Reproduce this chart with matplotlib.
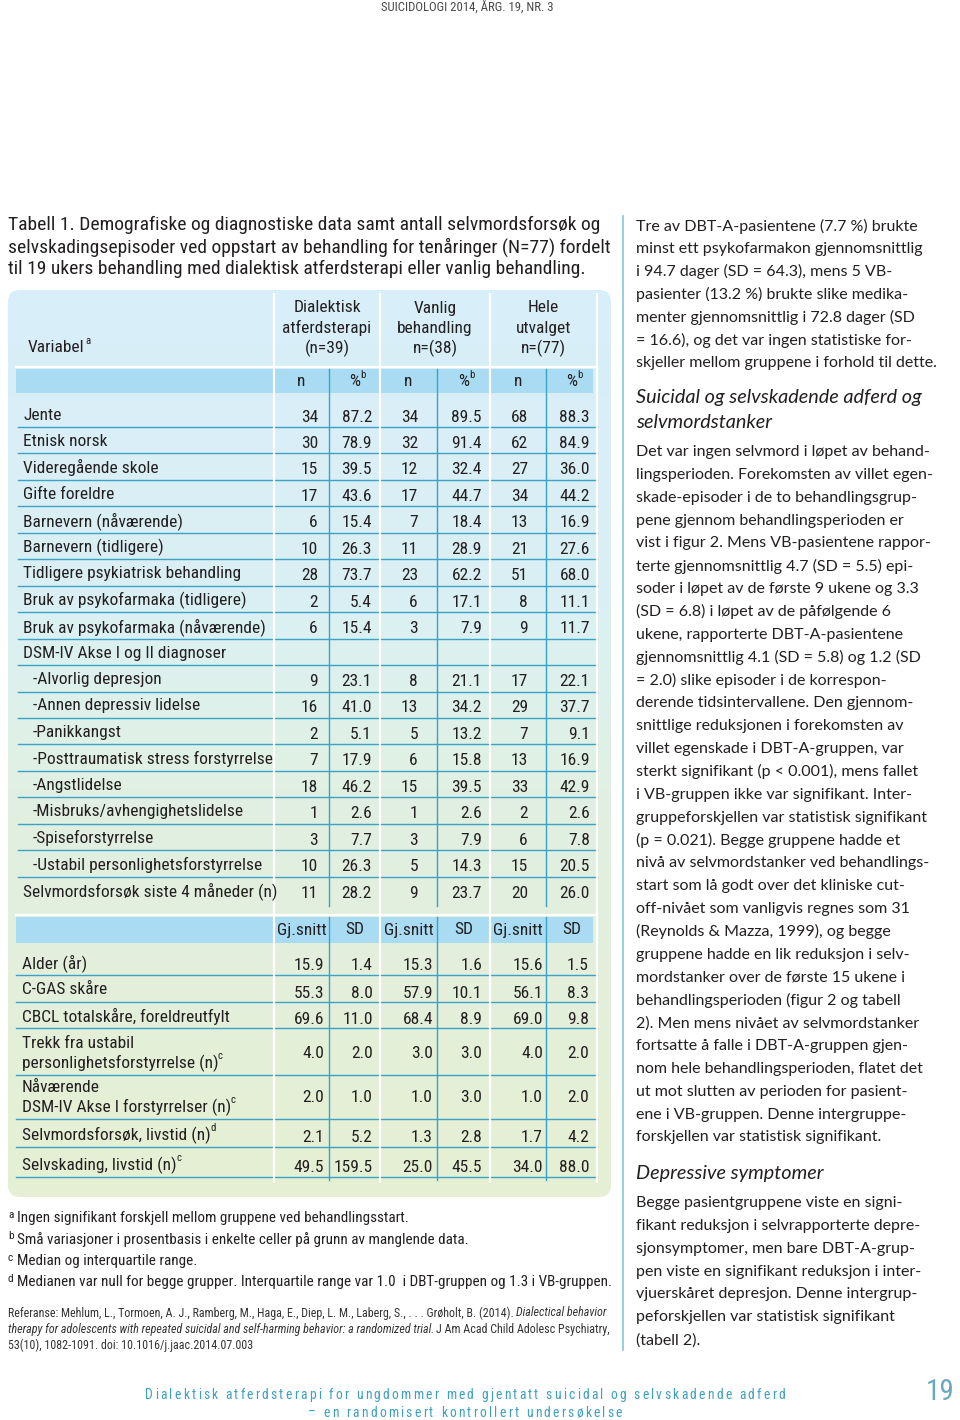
import numpy as np
import matplotlib
matplotlib.use("Agg")
import matplotlib.pyplot as plt
from matplotlib.patches import FancyBboxPatch, Rectangle
from matplotlib.colors import LinearSegmentedColormap
from matplotlib.font_manager import FontProperties, fontManager

# ---------------- data ----------------
title_lines = [
    "Tabell 1. Demografiske og diagnostiske data samt antall selvmordsforsøk og",
    "selvskadingsepisoder ved oppstart av behandling for tenåringer (N=77) fordelt",
    "til 19 ukers behandling med dialektisk atferdsterapi eller vanlig behandling.",
]
group_heads = [["Dialektisk", "atferdsterapi", "(n=39)"],
               ["Vanlig", "behandling", "n=(38)"],
               ["Hele", "utvalget", "n=(77)"]]

cat_labels = ["Jente", "Etnisk norsk", "Videregående skole", "Gifte foreldre",
              "Barnevern (nåværende)", "Barnevern (tidligere)",
              "Tidligere psykiatrisk behandling", "Bruk av psykofarmaka (tidligere)",
              "Bruk av psykofarmaka (nåværende)", "DSM-IV Akse I og II diagnoser",
              "-Alvorlig depresjon", "-Annen depressiv lidelse", "-Panikkangst",
              "-Posttraumatisk stress forstyrrelse", "-Angstlidelse",
              "-Misbruks/avhengighetslidelse", "-Spiseforstyrrelse",
              "-Ustabil personlighetsforstyrrelse", "Selvmordsforsøk siste 4 måneder (n)"]
n_dbt = [34, 30, 15, 17, 6, 10, 28, 2, 6, None, 9, 16, 2, 7, 18, 1, 3, 10, 11]
pct_dbt = [87.2, 78.9, 39.5, 43.6, 15.4, 26.3, 73.7, 5.4, 15.4, None, 23.1, 41.0, 5.1, 17.9, 46.2, 2.6, 7.7, 26.3, 28.2]
n_vb = [34, 32, 12, 17, 7, 11, 23, 6, 3, None, 8, 13, 5, 6, 15, 1, 3, 5, 9]
pct_vb = [89.5, 91.4, 32.4, 44.7, 18.4, 28.9, 62.2, 17.1, 7.9, None, 21.1, 34.2, 13.2, 15.8, 39.5, 2.6, 7.9, 14.3, 23.7]
n_all = [68, 62, 27, 34, 13, 21, 51, 8, 9, None, 17, 29, 7, 13, 33, 2, 6, 15, 20]
pct_all = [88.3, 84.9, 36.0, 44.2, 16.9, 27.6, 68.0, 11.1, 11.7, None, 22.1, 37.7, 9.1, 16.9, 42.9, 2.6, 7.8, 20.5, 26.0]

cont_labels = [["Alder (år)"], ["C-GAS skåre"], ["CBCL totalskåre, foreldreutfylt"],
               ["Trekk fra ustabil", "personlighetsforstyrrelse (n)"],
               ["Nåværende", "DSM-IV Akse I forstyrrelser (n)"],
               ["Selvmordsforsøk, livstid (n)"], ["Selvskading, livstid (n)"]]
cont_sup = ["", "", "", "c", "c", "d", "c"]
mean_dbt = [15.9, 55.3, 69.6, 4.0, 2.0, 2.1, 49.5]
sd_dbt = [1.4, 8.0, 11.0, 2.0, 1.0, 5.2, 159.5]
mean_vb = [15.3, 57.9, 68.4, 3.0, 1.0, 1.3, 25.0]
sd_vb = [1.6, 10.1, 8.9, 3.0, 3.0, 2.8, 45.5]
mean_all = [15.6, 56.1, 69.0, 4.0, 1.0, 1.7, 34.0]
sd_all = [1.5, 8.3, 9.8, 2.0, 2.0, 4.2, 88.0]

notes = [("a", "Ingen signifikant forskjell mellom gruppene ved behandlingsstart."),
         ("b", "Små variasjoner i prosentbasis i enkelte celler på grunn av manglende data."),
         ("c", "Median og interquartile range."),
         ("d", "Medianen var null for begge grupper. Interquartile range var 1.0  i DBT-gruppen og 1.3 i VB-gruppen.")]
ref_lines = [
    [("Referanse: Mehlum, L., Tormoen, A. J., Ramberg, M., Haga, E., Diep, L. M., Laberg, S., . . . Grøholt, B. (2014).", "normal"),
     ("Dialectical behavior", "italic")],
    [("therapy for adolescents with repeated suicidal and self-harming behavior: a randomized trial.", "italic"),
     ("J Am Acad Child Adolesc Psychiatry,", "normal")],
    [("53(10), 1082-1091. doi: 10.1016/j.jaac.2014.07.003", "normal")],
]

body1 = ["Tre av DBT-A-pasientene (7.7 %) brukte",
         "minst ett psykofarmakon gjennomsnittlig",
         "i 94.7 dager (SD = 64.3), mens 5 VB-",
         "pasienter (13.2 %) brukte slike medika-",
         "menter gjennomsnittlig i 72.8 dager (SD",
         "= 16.6), og det var ingen statistiske for-",
         "skjeller mellom gruppene i forhold til dette."]
head1 = ["Suicidal og selvskadende adferd og", "selvmordstanker"]
body2 = ["Det var ingen selvmord i løpet av behand-",
         "lingsperioden. Forekomsten av villet egen-",
         "skade-episoder i de to behandlingsgrup-",
         "pene gjennom behandlingsperioden er",
         "vist i figur 2. Mens VB-pasientene rappor-",
         "terte gjennomsnittlig 4.7 (SD = 5.5) epi-",
         "soder i løpet av de første 9 ukene og 3.3",
         "(SD = 6.8) i løpet av de påfølgende 6",
         "ukene, rapporterte DBT-A-pasientene",
         "gjennomsnittlig 4.1 (SD = 5.8) og 1.2 (SD",
         "= 2.0) slike episoder i de korrespon-",
         "derende tidsintervallene. Den gjennom-",
         "snittlige reduksjonen i forekomsten av",
         "villet egenskade i DBT-A-gruppen, var",
         "sterkt signifikant (p < 0.001), mens fallet",
         "i VB-gruppen ikke var signifikant. Inter-",
         "gruppeforskjellen var statistisk signifikant",
         "(p = 0.021). Begge gruppene hadde et",
         "nivå av selvmordstanker ved behandlings-",
         "start som lå godt over det kliniske cut-",
         "off-nivået som vanligvis regnes som 31",
         "(Reynolds & Mazza, 1999), og begge",
         "gruppene hadde en lik reduksjon i selv-",
         "mordstanker over de første 15 ukene i",
         "behandlingsperioden (figur 2 og tabell",
         "2). Men mens nivået av selvmordstanker",
         "fortsatte å falle i DBT-A-gruppen gjen-",
         "nom hele behandlingsperioden, flatet det",
         "ut mot slutten av perioden for pasient-",
         "ene i VB-gruppen. Denne intergruppe-",
         "forskjellen var statistisk signifikant."]
head2 = ["Depressive symptomer"]
body3 = ["Begge pasientgruppene viste en signi-",
         "fikant reduksjon i selvrapporterte depre-",
         "sjonsymptomer, men bare DBT-A-grup-",
         "pen viste en signifikant reduksjon i inter-",
         "vjuerskåret depresjon. Denne intergrup-",
         "peforskjellen var statistisk signifikant",
         "(tabell 2)."]

header_txt = "SUICIDOLOGI 2014, ÅRG. 19, NR. 3"
footer1 = "Dialektisk atferdsterapi for ungdommer med gjentatt suicidal og selvskadende adferd"
footer2 = "– en randomisert kontrollert undersøkelse"
page_no = "19"

# ---------------- fonts / helpers ----------------
names = {f.name for f in fontManager.ttflist}


def pick(*cands):
    for c in cands:
        if c in names:
            return c
    return "DejaVu Sans"


NARROW = pick("Liberation Sans Narrow", "Roboto Condensed", "Open Sans Condensed", "Lato", "Roboto")
BODY = pick("Lato", "Open Sans", "Noto Sans")
TXT = "#231f20"
TEAL = "#3aa1c7"
BAND = "#a9dcf3"
WHITE = "#ffffff"

fig = plt.figure(figsize=(9.6, 14.2), dpi=100)
ax = fig.add_axes([0, 0, 1, 1])
renderer = fig.canvas.get_renderer()


def tw(s, fam, size, style="normal"):
    # measure at 10x size to avoid hinting round-off
    fp = FontProperties(family=fam, size=size * 10, style=style)
    return renderer.get_text_width_height_descent(s, fp, ismath=False)[0] / 10.0


def fit(s, fam, target, style="normal"):
    return 10.0 * target / tw(s, fam, 10.0, style)


def put(x, y, s, fam, size, ha="left", style="normal", color=TXT, z=5):
    return ax.text(x, y, s, fontfamily=fam, fontsize=size, ha=ha, va="center",
                   style=style, color=color, zorder=z)


def put_sup(x, y, base, s, fam, size, ha="left", color=TXT):
    w = tw(base, fam, size)
    x0 = x - w / 2 if ha == "center" else (x - w if ha == "right" else x)
    put(x0, y, base, fam, size, color=color)
    if s:
        put(x0 + w + 0.6, y - size * 1.389 * 0.42, s, fam, size * 0.62, color=color)


def advances(s, fam, size):
    ref = tw("xx", fam, size)
    return [tw("x" + c + "x", fam, size) - ref for c in s]


def tracked(x, y, s, fam, size, track, color, ha="left"):
    adv = advances(s, fam, size)
    total = sum(adv) + track * (len(s) - 1)
    x0 = x - total / 2 if ha == "center" else x
    for c, a in zip(s, adv):
        if c != " ":
            put(x0, y, c, fam, size, color=color)
        x0 += a + track
    return total


def track_for(s, fam, size, target):
    return (target - sum(advances(s, fam, size))) / (len(s) - 1)


# ---------------- page header / title ----------------
put(381, 7, header_txt, NARROW, fit(header_txt, NARROW, 173), color="#4a4a4a")

ts = fit(title_lines[1], NARROW, 600)
for i, line in enumerate(title_lines):
    put(8, 225 + i * 22.2, line, NARROW, ts)

# ---------------- table panel ----------------
px0, px1, py0, py1, rad = 8, 611, 290, 1197, 12
panel = FancyBboxPatch((px0 + rad, py0 + rad), px1 - px0 - 2 * rad, py1 - py0 - 2 * rad,
                       boxstyle="round,pad=%d" % rad, fc="none", ec="none")
ax.add_patch(panel)
cmap = LinearSegmentedColormap.from_list(
    "panel", [(0, "#d8eef9"), (0.35, "#dbf0f3"), (0.55, "#e1f0e3"), (1, "#e6efd3")])
im = ax.imshow(np.linspace(0, 1, 256).reshape(-1, 1), extent=(px0, px1, py1, py0),
               cmap=cmap, aspect="auto", zorder=0, interpolation="bilinear")
im.set_clip_path(panel)

xl, xr = 16, 597
white_x = [274, 380, 490, 597]
teal_x = [329, 437, 546]
band1 = (369, 393)
band2 = (917, 943)
for b in (band1, band2):
    ax.add_patch(Rectangle((xl, b[0]), 593 - xl, b[1] - b[0], fc=BAND, ec="none", zorder=1))
    ax.plot([xl, xr], [b[0] - 2, b[0] - 2], color=WHITE, lw=1.6, zorder=2)

for x in white_x:
    ax.plot([x, x], [294, 1182], color=WHITE, lw=1.6, zorder=3)
for x in teal_x:
    ax.plot([x, x], [band1[0], 906], color=TEAL, lw=1.0, zorder=4)
    ax.plot([x, x], [band2[0], 1180], color=TEAL, lw=1.0, zorder=4)

fs = fit("Tidligere psykiatrisk behandling", NARROW, 217)

# group headers
centers = [(white_x[i] + white_x[i + 1]) / 2 for i in range(3)]
for c, lines in zip(centers, group_heads):
    for j, s in enumerate(lines):
        put(c, 308 + j * 20.3, s, NARROW, fs, ha="center")
put_sup(28, 348, "Variabel", "a", NARROW, fs)

sub_n = [(white_x[i] + teal_x[i]) / 2 for i in range(3)]
sub_p = [(teal_x[i] + white_x[i + 1]) / 2 for i in range(3)]
for a, b in zip(sub_n, sub_p):
    put(a, 382, "n", NARROW, fs, ha="center")
    put_sup(b, 382, "%", "b", NARROW, fs, ha="center")
    put(a, 930, "Gj.snitt", NARROW, fs, ha="center")
    put(b, 930, "SD", NARROW, fs, ha="center")

# categorical rows
n_right = [318, 418, 528]
p_right = [372, 482, 590]
counts = [n_dbt, n_vb, n_all]
pcts = [pct_dbt, pct_vb, pct_all]
for i, lab in enumerate(cat_labels):
    y = 415 + i * 26.45
    x = 33 if lab.startswith("-") else 23
    put(x, y, lab, NARROW, fs)
    for g in range(3):
        if counts[g][i] is not None:
            put(n_right[g], y + 2, str(counts[g][i]), NARROW, fs, ha="right")
            put(p_right[g], y + 2, "%.1f" % pcts[g][i], NARROW, fs, ha="right")
    if i < len(cat_labels) - 1:
        ax.plot([18, xr], [y + 12, y + 12], color=TEAL, lw=1.0, zorder=2)

# continuous rows
heights = [27, 27, 26, 47, 44, 28, 30]
m_right = [324, 433, 543]
s_right = [373, 482, 589]
means = [mean_dbt, mean_vb, mean_all]
sds = [sd_dbt, sd_vb, sd_all]
bottom = 948
for i, lines in enumerate(cont_labels):
    bottom += heights[i]
    if len(lines) == 1:
        put_sup(22, bottom - 12, lines[0], cont_sup[i], NARROW, fs)
        ny = bottom - 9
    else:
        put(22, bottom - 32, lines[0], NARROW, fs)
        put_sup(22, bottom - 12, lines[1], cont_sup[i], NARROW, fs)
        ny = bottom - 22
    for g in range(3):
        put(m_right[g], ny, "%.1f" % means[g][i], NARROW, fs, ha="right")
        put(s_right[g], ny, "%.1f" % sds[g][i], NARROW, fs, ha="right")
    ax.plot([xl, xr], [bottom, bottom], color=TEAL, lw=1.0, zorder=2)

# ---------------- footnotes / reference ----------------
ns = fit(notes[3][1], NARROW, 595)
for i, (k, s) in enumerate(notes):
    y = 1218 + i * 21.4
    put(8, y - 3, k, NARROW, ns * 0.75)
    put(17, y, s, NARROW, ns)

rs = fit(ref_lines[2][0][0], NARROW, 244)
sp = tw("a a", NARROW, rs) - tw("aa", NARROW, rs)
for i, segs in enumerate(ref_lines):
    x = 8
    y = 1313 + i * 16.2
    for s, st in segs:
        put(x, y, s, NARROW, rs, style=st, color="#333333")
        x += tw(s, NARROW, rs, st) + sp

# ---------------- right column ----------------
ax.plot([623, 623], [216, 1350], color="#8ccbe0", lw=1.3, zorder=1)
bs = fit(body1[1], BODY, 288)
hs2 = fit(head1[0], BODY, 286, "italic")
lh = 22.85
for i, s in enumerate(body1):
    put(636, 226 + i * lh, s, BODY, bs)
for i, s in enumerate(head1):
    put(636, 398 + i * 24, s, BODY, hs2, style="italic")
for i, s in enumerate(body2):
    put(636, 452 + i * lh, s, BODY, bs)
put(636, 1173, head2[0], BODY, hs2, style="italic")
for i, s in enumerate(body3):
    put(636, 1203 + i * lh, s, BODY, bs)

# ---------------- footer ----------------
fsz = 9.8
trk = track_for(footer1, NARROW, fsz, 640)
tracked(145, 1395, footer1, NARROW, fsz, trk, "#3d9fc0")
tracked(465, 1413, footer2, NARROW, fsz, trk, "#3d9fc0", ha="center")
put(955, 1392, page_no, NARROW, 21, ha="right", color="#6aa9bd")

ax.set_xlim(0, 960)
ax.set_ylim(1420, 0)
ax.axis("off")
fig.savefig("out.png", dpi=100, facecolor="white")
